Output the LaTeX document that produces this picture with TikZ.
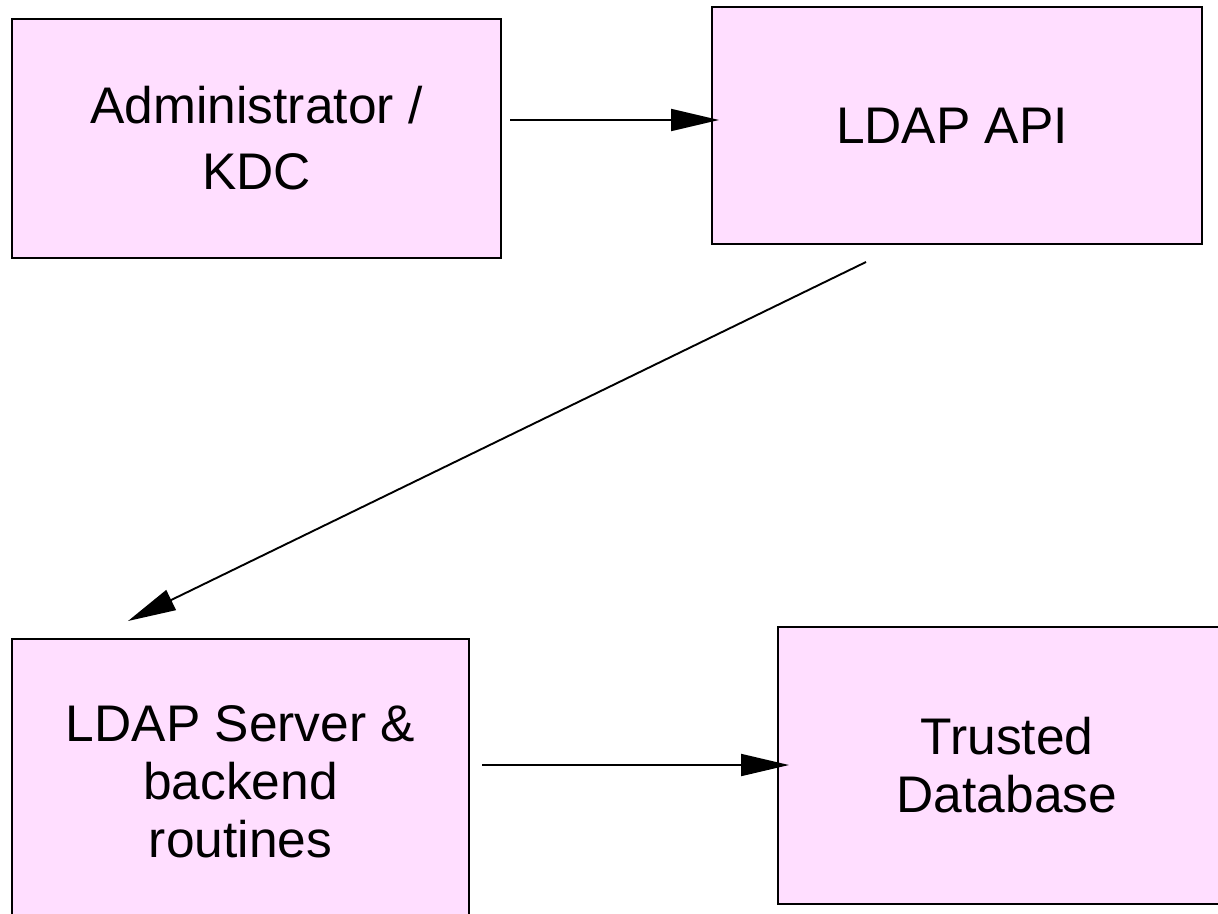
\documentclass[tikz,border=0pt]{standalone}
\usepackage{fontspec}
\setmainfont{Liberation Sans}
\usetikzlibrary{arrows.meta}
\definecolor{boxfill}{HTML}{FFDEFF}
\tikzset{
  block/.style={draw=black, line width=2.3pt, fill=boxfill, rectangle, inner sep=0pt,
                align=center, font=\fontsize{51.5}{58}\selectfont},
  flow/.style={draw=black, line width=1.9pt,
               -{Triangle[length=48pt, width=22pt]}}
}
\begin{document}
\begin{tikzpicture}[x=1pt, y=-1pt]
  \useasboundingbox (0,0) rectangle (1218,913);
  \fill[white] (0,0) rectangle (1218,913);

  % boxes
  \node[block, minimum width=489pt, minimum height=239pt,
        font=\fontsize{51.5}{66}\selectfont] (admin) at (256.5,138.5)
        {Administrator /\\KDC};
  \node[block, minimum width=490pt, minimum height=237pt] (api) at (957,125.5)
        {\raisebox{-4pt}{LDAP API}\hspace{10pt}};
  \node[block, minimum width=457pt, minimum height=286pt] (server) at (240.5,782)
        {LDAP Server \&\\backend\\routines};
  \node[block, minimum width=458pt, minimum height=277pt] (db) at (1007,765.5)
        {Trusted\\Database};

  % connector end points
  \coordinate (adminout) at (510,120);
  \coordinate (apiin)    at (719,120);
  \coordinate (apiout)   at (866,262);
  \coordinate (serverin) at (128,621);
  \coordinate (serverout) at (482,765);
  \coordinate (dbin)     at (789,765);

  % connectors
  \draw[flow] (adminout) -- (apiin);
  \draw[flow] (apiout) -- (serverin);
  \draw[flow] (serverout) -- (dbin);
\end{tikzpicture}
\end{document}
